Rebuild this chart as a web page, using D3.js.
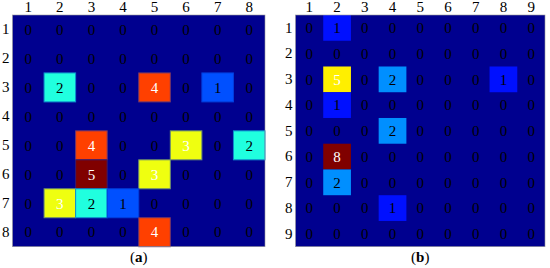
<!DOCTYPE html>
<html>
<head>
<meta charset="utf-8">
<script src="https://cdn.jsdelivr.net/npm/d3@7"></script>
<style>
  body { margin: 0; background: #fff; }
  svg text { font-family: "Liberation Serif", "DejaVu Serif", serif; }
</style>
</head>
<body>
<div class="chart-heat"></div>
<script>
// panel (a): 8 x 8
var rowsA = [1, 2, 3, 4, 5, 6, 7, 8];
var colsA = [1, 2, 3, 4, 5, 6, 7, 8];
var valuesA = [
  [0, 0, 0, 0, 0, 0, 0, 0],
  [0, 0, 0, 0, 0, 0, 0, 0],
  [0, 2, 0, 0, 4, 0, 1, 0],
  [0, 0, 0, 0, 0, 0, 0, 0],
  [0, 0, 4, 0, 0, 3, 0, 2],
  [0, 0, 5, 0, 3, 0, 0, 0],
  [0, 3, 2, 1, 0, 0, 0, 0],
  [0, 0, 0, 0, 4, 0, 0, 0]
];
// panel (b): 9 x 9
var rowsB = [1, 2, 3, 4, 5, 6, 7, 8, 9];
var colsB = [1, 2, 3, 4, 5, 6, 7, 8, 9];
var valuesB = [
  [0, 1, 0, 0, 0, 0, 0, 0, 0],
  [0, 0, 0, 0, 0, 0, 0, 0, 0],
  [0, 5, 0, 2, 0, 0, 0, 1, 0],
  [0, 1, 0, 0, 0, 0, 0, 0, 0],
  [0, 0, 0, 2, 0, 0, 0, 0, 0],
  [0, 8, 0, 0, 0, 0, 0, 0, 0],
  [0, 2, 0, 0, 0, 0, 0, 0, 0],
  [0, 0, 0, 1, 0, 0, 0, 0, 0],
  [0, 0, 0, 0, 0, 0, 0, 0, 0]
];

var FONT = '"Liberation Serif", "DejaVu Serif", serif';
var FS = "15px";

// matlab jet(64)
function jet(t) {
  var k = Math.min(64, Math.floor(t * 64) + 1);
  var clamp = function (v) { return Math.max(0, Math.min(1, v)); };
  var r = k <= 24 ? 0 : k <= 40 ? (k - 24) / 16 : k <= 56 ? 1 : (72 - k) / 16;
  var g = k <= 8 ? 0 : k <= 24 ? (k - 8) / 16 : k <= 40 ? 1 : k <= 56 ? (56 - k) / 16 : 0;
  var b = k <= 8 ? (k + 8) / 16 : k <= 24 ? 1 : k <= 40 ? (40 - k) / 16 : 0;
  return d3.rgb(clamp(r) * 255, clamp(g) * 255, clamp(b) * 255).formatHex();
}

var svg = d3.select(".chart-heat").append("svg")
  .attr("width", 550)
  .attr("height", 268);

function drawPanel(opts) {
  var rows = opts.rows, cols = opts.cols, values = opts.values;
  var vmax = d3.max(values, function (r) { return d3.max(r); });

  var xScale = d3.scaleBand().domain(cols).range([opts.x0, opts.x1]);
  var yScale = d3.scaleBand().domain(rows).range([opts.y0, opts.y1]);

  var g = svg.append("g");

  var cells = [];
  values.forEach(function (r, i) {
    r.forEach(function (v, j) {
      cells.push({ row: rows[i], col: cols[j], value: v });
    });
  });

  // background (value 0)
  g.append("rect")
    .attr("x", opts.x0)
    .attr("y", opts.y0)
    .attr("width", opts.x1 - opts.x0)
    .attr("height", opts.y1 - opts.y0)
    .attr("fill", jet(0));

  g.selectAll(".cell")
    .data(cells.filter(function (d) { return d.value > 0; }))
    .enter()
    .append("rect")
    .attr("class", "cell")
    .attr("x", function (d) { return xScale(d.col); })
    .attr("y", function (d) { return yScale(d.row); })
    .attr("width", xScale.bandwidth())
    .attr("height", yScale.bandwidth())
    .attr("fill", function (d) { return jet(d.value / vmax); })
    .attr("stroke", function (d) {
      return opts.edges ? d3.interpolateRgb(jet(d.value / vmax), "#0030c0")(0.55) : "none";
    })
    .attr("stroke-width", opts.edges ? 1 : 0);

  // frame
  g.append("rect")
    .attr("x", opts.x0)
    .attr("y", opts.y0)
    .attr("width", opts.x1 - opts.x0)
    .attr("height", opts.y1 - opts.y0)
    .attr("fill", "none")
    .attr("stroke", "#9a9a9a")
    .attr("stroke-width", 0.6);

  // values in cells
  g.selectAll(".val")
    .data(cells)
    .enter()
    .append("text")
    .attr("class", "val")
    .attr("x", function (d) { return xScale(d.col) + xScale.bandwidth() / 2; })
    .attr("y", function (d) { return yScale(d.row) + yScale.bandwidth() / 2; })
    .attr("dy", "0.35em")
    .attr("text-anchor", "middle")
    .style("font-size", FS)
    .attr("fill", function (d) { return d.value / vmax >= 0.5 ? "#fff" : "#000"; })
    .text(function (d) { return d.value; });

  // axes
  var top = g.append("g")
    .attr("transform", "translate(0," + (opts.y0 - 2) + ")")
    .call(d3.axisTop(xScale).tickSize(0).tickPadding(1));
  var left = g.append("g")
    .attr("transform", "translate(" + (opts.x0 - 2) + ",0)")
    .call(d3.axisLeft(yScale).tickSize(0).tickPadding(1));
  [top, left].forEach(function (ax) {
    ax.select(".domain").remove();
    ax.selectAll("text")
      .style("font-family", FONT)
      .style("font-size", FS)
      .attr("fill", "#000");
  });

  // caption
  var cap = g.append("text")
    .attr("x", (opts.x0 + opts.x1) / 2)
    .attr("y", 262)
    .attr("text-anchor", "middle")
    .style("font-size", FS);
  cap.append("tspan").text("(");
  cap.append("tspan").style("font-weight", "bold").text(opts.label);
  cap.append("tspan").text(")");
}

drawPanel({ rows: rowsA, cols: colsA, values: valuesA, label: "a",
  x0: 12.5, x1: 265, y0: 15, y1: 246.7, edges: true });
drawPanel({ rows: rowsB, cols: colsB, values: valuesB, label: "b",
  x0: 295.5, x1: 545, y0: 15, y1: 246.7, edges: false });
</script>
</body>
</html>
